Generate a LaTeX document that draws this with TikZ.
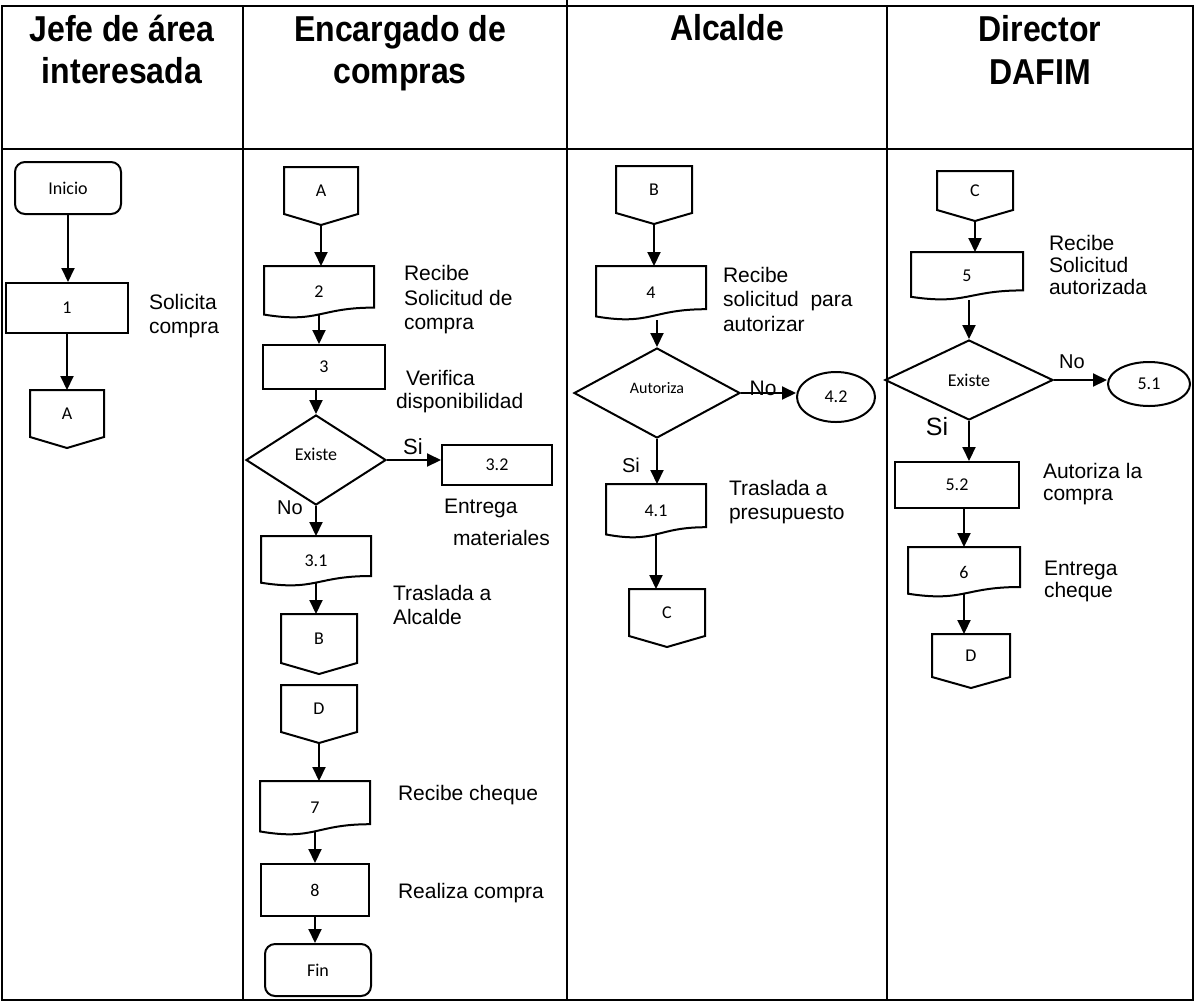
\documentclass[tikz,border=0pt]{standalone}
\usepackage{fontspec}
\setmainfont{Liberation Sans}
\newfontfamily\boxfont{Carlito}
\newfontfamily\headfont[FakeStretch=0.89]{Liberation Sans Bold}
\usetikzlibrary{arrows.meta,shapes.geometric,calc}

\tikzset{
  size/.style 2 args={minimum width=#1pt,minimum height=#2pt},
  boxtext/.style={inner sep=0pt,font=\boxfont\fontsize{18}{20}\selectfont},
  box/.style={boxtext,draw,rectangle},
  term/.style={box,rounded corners=10pt},
  docbox/.style={boxtext,rectangle},
  offpage/.style={boxtext,rectangle,text height=7pt,text depth=6pt},
  decision/.style={boxtext,draw,diamond},
  raised/.style={text height=6pt,text depth=6pt},
  stop/.style={boxtext,draw,ellipse},
  flow/.style={-{Triangle[length=14pt,width=13pt]}},
  fromdoc/.style={flow,shorten <=-3pt},
  lbl/.style={anchor=west,align=left,inner sep=0pt,font=\fontsize{21}{24.5}\selectfont},
  yn/.style={inner sep=0pt,font=\fontsize{21}{24}\selectfont},
  head/.style={anchor=base,inner sep=0pt,font=\headfont\fontsize{36}{41}\selectfont}
}

% outline of a document symbol (wavy bottom edge)
\newcommand\docshape[1]{%
  \draw (#1.north west) -- (#1.north east)
    -- ($(#1.north east)!0.8!(#1.south east)$)
    .. controls ($(#1.north)!0.8!(#1.south)$) and ($(#1.north)!1.107!(#1.south)$)
    .. ($(#1.north west)!0.934!(#1.south west)$) -- cycle;}
% outline of an off-page connector (pointed bottom)
\newcommand\offshape[1]{%
  \draw (#1.north west) -- (#1.north east) -- ($(#1.south east)+(0,11)$)
    -- (#1.south) -- ($(#1.south west)+(0,11)$) -- cycle;}

\begin{document}
\begin{tikzpicture}[x=1pt,y=1pt,line width=2pt]

\useasboundingbox (0,0) rectangle (1201,-1002);
\fill[white] (0,0) rectangle (1201,-1002);

% swimlane grid
\draw (2,-6) rectangle (1193,-1000);
\draw[line width=2.6pt] (2,-149) -- (1193,-149);
\draw (243,-6) -- (243,-1000);
\draw (567,0) -- (567,-1000);
\draw (887,-6) -- (887,-1000);

% lane titles
\node[head] (h1a) at (122,-41.5) {Jefe de área};
\node[head] (h1b) at (122,-83) {interesada};
\node[head] (h2a) at (400,-41.5) {Encargado de};
\node[head] (h2b) at (400,-83) {compras};
\node[head] (h3) at (727,-40.5) {Alcalde};
\node[head] (h4a) at (1040,-41.5) {Director};
\node[head] (h4b) at (1040,-84) {DAFIM};

% lane 1
\node[term,size={106}{52}] (inicio) at (68,-188) {Inicio};
\node[box,size={122}{50}] (p1) at (67,-308) {1};
\node[offpage,size={72}{56}] (ca1) at (67,-419) {A};
\offshape{ca1}
\node[lbl] (t1) at (148,-316) {Solicita\\compra};

\draw[flow] (inicio.south) -- (inicio.south |- p1.north);
\draw[flow] (p1.south) -- (p1.south |- ca1.north);

% lane 2
\node[offpage,size={72}{56}] (ca2) at (321,-196) {A};
\node[docbox,size={108}{50}] (p2) at (319,-292) {2};
\node[box,size={122}{44}] (p3) at (324,-367) {3};
\node[decision,raised,size={140}{90}] (q1) at (316,-460) {Existe};
\node[box,size={110}{40}] (p32) at (497,-465) {3.2};
\node[docbox,size={108}{48}] (p31) at (316,-561) {3.1};
\node[offpage,size={74}{58}] (cb2) at (319,-644) {B};
\node[offpage,size={74}{56}] (cd2) at (319,-714) {D};
\node[docbox,size={108}{52}] (p7) at (315,-808) {7};
\node[box,size={108}{52}] (p8) at (315,-890) {8};
\node[term,size={106}{52}] (fin) at (318,-970) {Fin};
\offshape{ca2} \docshape{p2} \docshape{p31} \offshape{cb2} \offshape{cd2} \docshape{p7}

\node[lbl] (t2) at (403,-300) {Recibe\\Solicitud de\\compra};
\node[lbl] (t3a) at (405,-378) {Verifica};
\node[lbl] (t3b) at (395,-403) {disponibilidad};
\node[lbl] (t32a) at (443,-508) {Entrega};
\node[lbl] (t32b) at (452,-538) {materiales};
\node[lbl] (t31) at (392,-605) {Traslada a\\Alcalde};
\node[lbl] (t7) at (397,-795) {Recibe cheque};
\node[lbl] (t8) at (397,-893) {Realiza compra};
\node[yn,font=\fontsize{22}{24}\selectfont] (y1) at (413,-447) {Si};
\node[yn,font=\fontsize{20}{24}\selectfont] (n1) at (290,-508) {No};

\draw[flow] (ca2.south) -- (ca2.south |- p2.north);
\draw[fromdoc] (p2.south) -- (p2.south |- p3.north);
\draw[flow] (q1.north |- p3.south) -- (q1.north);
\draw[flow] (q1.east) -- (q1.east -| p32.west);
\draw[flow] (q1.south) -- (q1.south |- p31.north);
\draw[fromdoc] (p31.south) -- (p31.south |- cb2.north);
\draw[flow] (cd2.south) -- (cd2.south |- p7.north);
\draw[fromdoc] (p7.south) -- (p7.south |- p8.north);
\draw[flow] (p8.south) -- (p8.south |- fin.north);

% lane 3
\node[offpage,size={74}{56}] (cb3) at (654,-195) {B};
\node[docbox,size={108}{52}] (p4) at (651,-293) {4};
\node[decision,raised,size={166}{90},font=\boxfont\fontsize{16}{18}\selectfont] (q2) at (657,-393) {Autoriza};
\node[stop,size={78}{50}] (s42) at (836,-397) {4.2};
\node[docbox,size={98}{52}] (p41) at (656,-511) {4.1};
\node[offpage,size={74}{56}] (cc3) at (667,-618) {C};
\offshape{cb3} \docshape{p4} \docshape{p41} \offshape{cc3}

\node[lbl] (t4) at (722,-299) {Recibe\\solicitud\ \ para\\autorizar};
\node[lbl] (t41) at (728,-502) {Traslada a\\presupuesto};
\node[yn] (n2) at (763,-388) {No};
\node[yn,font=\fontsize{20}{24}\selectfont] (y2) at (631,-465) {Si};

\draw[flow] (cb3.south) -- (cb3.south |- p4.north);
\draw[flow] (q2.north |- p4.south) -- (q2.north);
\draw[flow] (q2.east) -- (q2.east -| s42.west);
\draw[flow] (q2.south) -- (q2.south |- p41.north);
\draw[fromdoc] (p41.south) -- (p41.south |- cc3.north);

% lane 4
\node[offpage,size={74}{48}] (cc4) at (975,-196) {C};
\node[docbox,size={110}{46}] (p5) at (967,-276) {5};
\node[decision,size={168}{80}] (q3) at (969,-380) {Existe};
\node[stop,size={82}{44}] (s51) at (1149,-384) {5.1};
\node[box,size={124}{46}] (p52) at (957,-485) {5.2};
\node[docbox,size={110}{48}] (p6) at (964,-572) {6};
\node[offpage,size={76}{52}] (cd4) at (971,-661) {D};
\offshape{cc4} \docshape{p5} \docshape{p6} \offshape{cd4}

\node[lbl,font=\fontsize{21}{22}\selectfont] (t5) at (1048,-265) {Recibe\\Solicitud\\autorizada};
\node[lbl,font=\fontsize{21}{22}\selectfont] (t52) at (1042,-484) {Autoriza la\\compra};
\node[lbl,font=\fontsize{21}{22}\selectfont] (t6) at (1043,-581) {Entrega\\cheque};
\node[yn,font=\fontsize{20}{24}\selectfont] (n3) at (1072,-362) {No};
\node[yn,font=\fontsize{25}{28}\selectfont] (y3) at (937,-427) {Si};

\draw[flow] (cc4.south) -- (cc4.south |- p5.north);
\draw[flow] (q3.north |- p5.south) -- (q3.north);
\draw[flow] (q3.east) -- (q3.east -| s51.west);
\draw[flow] (q3.south) -- (q3.south |- p52.north);
\draw[flow] (p6.north |- p52.south) -- (p6.north);
\draw[fromdoc] (p6.south) -- (p6.south |- cd4.north);

\end{tikzpicture}
\end{document}
